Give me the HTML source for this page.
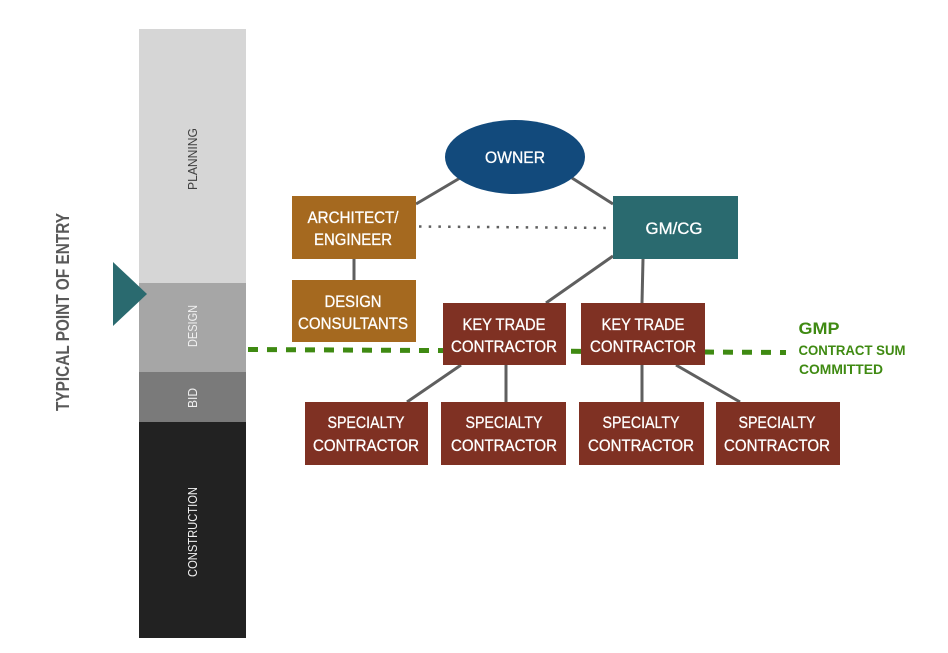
<!DOCTYPE html>
<html><head><meta charset="utf-8"><style>
html,body{margin:0;padding:0;background:#fff}
svg{display:block}
text{font-family:"Liberation Sans",sans-serif;text-anchor:middle}
.w{fill:#fff;font-size:17px;stroke:#fff;stroke-width:.3px}
.g{fill:#3f8a12;font-weight:700}
.l{font-size:13px;fill:#f0f0f0}
</style></head><body>
<svg width="948" height="653" viewBox="0 0 948 653" xmlns="http://www.w3.org/2000/svg">
<rect x="139" y="29" width="107" height="254" fill="#d6d6d6"/>
<rect x="139" y="283" width="107" height="89" fill="#a6a6a6"/>
<rect x="139" y="372" width="107" height="50" fill="#7a7a7a"/>
<rect x="139" y="422" width="107" height="216" fill="#222222"/>
<polygon points="113,262 147,294 113,326" fill="#2a6a6f"/>
<text class="l" transform="translate(197,159) rotate(-90)" style="fill:#404040" textLength="62" lengthAdjust="spacingAndGlyphs">PLANNING</text>
<text class="l" transform="translate(197,326) rotate(-90)" textLength="42" lengthAdjust="spacingAndGlyphs">DESIGN</text>
<text class="l" transform="translate(197,398) rotate(-90)" textLength="20" lengthAdjust="spacingAndGlyphs">BID</text>
<text class="l" transform="translate(197,532) rotate(-90)" textLength="90" lengthAdjust="spacingAndGlyphs">CONSTRUCTION</text>
<text transform="translate(69,312) rotate(-90)" font-size="18" font-weight="700" fill="#595959" textLength="198" lengthAdjust="spacingAndGlyphs">TYPICAL POINT OF ENTRY</text>
<g stroke="#5f5f5f" stroke-width="3" fill="none">
<line x1="416" y1="204" x2="460" y2="178"/>
<line x1="572" y1="178" x2="613" y2="204"/>
<line x1="354" y1="259" x2="354" y2="280"/>
<line x1="613" y1="256" x2="546" y2="303"/>
<line x1="643" y1="259" x2="642" y2="303"/>
<line x1="461" y1="365" x2="407" y2="402"/>
<line x1="506" y1="365" x2="506" y2="402"/>
<line x1="642" y1="365" x2="642" y2="402"/>
<line x1="676" y1="365" x2="740" y2="402"/>
</g>
<line x1="419" y1="226.5" x2="613" y2="228" stroke="#5f5f5f" stroke-width="2.5" stroke-dasharray="2.5 7.2"/>
<line x1="248" y1="349.5" x2="786" y2="352.5" stroke="#3f8a12" stroke-width="5" stroke-dasharray="10 9"/>
<ellipse cx="515" cy="157" rx="70" ry="37" fill="#124a7c"/>
<rect x="292" y="196" width="124" height="63" fill="#a5691f"/>
<rect x="292" y="280" width="124" height="62" fill="#a5691f"/>
<rect x="613" y="196" width="125" height="63" fill="#2a6a6f"/>
<g fill="#7f3123">
<rect x="443" y="303" width="123" height="62"/>
<rect x="581" y="303" width="124" height="62"/>
<rect x="305" y="402" width="123" height="63"/>
<rect x="441" y="402" width="125" height="63"/>
<rect x="579" y="402" width="125" height="63"/>
<rect x="716" y="402" width="124" height="63"/>
</g>
<text class="w" x="515" y="163" textLength="60" lengthAdjust="spacingAndGlyphs">OWNER</text>
<text class="w" x="353" y="223" textLength="91" lengthAdjust="spacingAndGlyphs">ARCHITECT/</text>
<text class="w" x="353" y="245" textLength="78" lengthAdjust="spacingAndGlyphs">ENGINEER</text>
<text class="w" x="353" y="307" textLength="57" lengthAdjust="spacingAndGlyphs">DESIGN</text>
<text class="w" x="353" y="329" textLength="110" lengthAdjust="spacingAndGlyphs">CONSULTANTS</text>
<text class="w" x="674" y="234" textLength="57" lengthAdjust="spacingAndGlyphs">GM/CG</text>
<text class="w" x="504" y="330" textLength="83" lengthAdjust="spacingAndGlyphs">KEY TRADE</text>
<text class="w" x="504" y="352" textLength="106" lengthAdjust="spacingAndGlyphs">CONTRACTOR</text>
<text class="w" x="643" y="330" textLength="83" lengthAdjust="spacingAndGlyphs">KEY TRADE</text>
<text class="w" x="643" y="352" textLength="106" lengthAdjust="spacingAndGlyphs">CONTRACTOR</text>
<text class="w" x="366" y="428" textLength="77" lengthAdjust="spacingAndGlyphs">SPECIALTY</text>
<text class="w" x="366" y="451" textLength="106" lengthAdjust="spacingAndGlyphs">CONTRACTOR</text>
<text class="w" x="504" y="428" textLength="77" lengthAdjust="spacingAndGlyphs">SPECIALTY</text>
<text class="w" x="504" y="451" textLength="106" lengthAdjust="spacingAndGlyphs">CONTRACTOR</text>
<text class="w" x="641" y="428" textLength="77" lengthAdjust="spacingAndGlyphs">SPECIALTY</text>
<text class="w" x="641" y="451" textLength="106" lengthAdjust="spacingAndGlyphs">CONTRACTOR</text>
<text class="w" x="777" y="428" textLength="77" lengthAdjust="spacingAndGlyphs">SPECIALTY</text>
<text class="w" x="777" y="451" textLength="106" lengthAdjust="spacingAndGlyphs">CONTRACTOR</text>
<text class="g" x="819" y="334" font-size="17" textLength="41" lengthAdjust="spacingAndGlyphs">GMP</text>
<text class="g" x="852" y="355" font-size="13.5" textLength="107" lengthAdjust="spacingAndGlyphs">CONTRACT SUM</text>
<text class="g" x="841" y="374" font-size="13.5" textLength="84" lengthAdjust="spacingAndGlyphs">COMMITTED</text>
</svg>
</body></html>
